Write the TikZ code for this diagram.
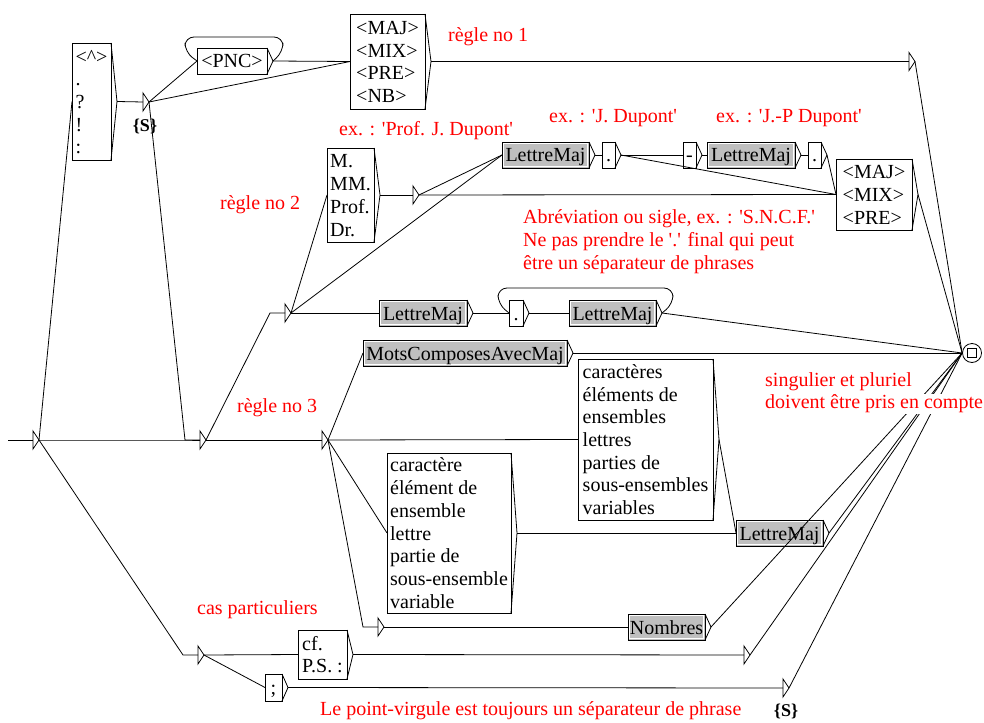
\documentclass[tikz,border=0pt]{standalone}
\usepackage{fontspec}
\setmainfont{Liberation Serif}[Ligatures={TeXOff,NoCommon}]
\usetikzlibrary{calc}

% A box of the automaton: name, left, top, right, bottom, style, text
\newcommand\UBox[7]{%
  \pgfmathsetmacro\ubw{#4-#2}%
  \pgfmathsetmacro\ubh{#5-#3}%
  \node[#6, minimum width=\ubw pt, minimum height=\ubh pt, anchor=north west] (#1) at (#2,#3) {};
  \coordinate (#1-o) at ($(#1.east)+(6,0)$);
  \draw[edge] (#1.north east) -- (#1-o) -- (#1.south east);
  \node[boxtext] (#1-t) at (#1.center) {\rule{0pt}{18.5pt}#7\rule[-4.5pt]{0pt}{0pt}};}
% A call to a sub-graph: grey box with a light inner rim
\newcommand\GBox[6]{%
  \UBox{#1}{#2}{#3}{#4}{#5}{greybox}{}%
  \draw[white, line width=0.6pt] ($(#1.north west)+(1.6,1.6)$) rectangle ($(#1.south east)+(-1.6,-1.6)$);
  \node[boxtext] (#1-t) at (#1.center) {\rule{0pt}{18.5pt}#6\rule[-4.5pt]{0pt}{0pt}};}
% An empty box, drawn as a small triangle
\newcommand\Eps[3]{%
  \coordinate (#1) at (#2,#3);
  \coordinate (#1-o) at (#2+6,#3);
  \draw[edge, line join=miter] (#2,#3-9) -- (#2,#3+9) -- (#1-o) -- cycle;}

\begin{document}
\begin{tikzpicture}[x=1pt, y=-1pt,
  edge/.style={line width=0.8pt, draw=black},
  plainbox/.style={draw=black, line width=0.8pt, fill=white, inner sep=0pt, outer sep=0pt},
  greybox/.style={draw=black, line width=0.8pt, fill=gray!50, inner sep=0pt, outer sep=0pt},
  boxtext/.style={inner sep=0pt, align=left, font=\fontsize{20}{22.7}\selectfont},
  note/.style={text=red, inner sep=0pt, anchor=west, align=left, font=\fontsize{20}{23}\selectfont},
  outtext/.style={inner sep=0pt, font=\bfseries\fontsize{18}{20}\selectfont}]
\useasboundingbox[fill=white] (0,0) rectangle (984,722);

% ---------- boxes ----------
\UBox{A}{72}{43}{111}{160}{plainbox}{\textless\textasciicircum\textgreater\\.\\?\\!\\:}
\UBox{PNC}{197}{48}{267}{74}{plainbox}{<PNC>}
\UBox{MAJ}{350}{14}{425}{109}{plainbox}{<MAJ>\\<MIX>\\<PRE>\\<NB>}
\UBox{M}{327}{148}{374}{242}{plainbox}{M.\\MM.\\Prof.\\Dr.}
\GBox{LMa}{502}{142}{589}{168}{LettreMaj}
\UBox{dotA}{602}{142}{615}{168}{plainbox}{.}
\UBox{dash}{683}{142}{696}{168}{plainbox}{-}
\GBox{LMb}{707}{142}{795}{168}{LettreMaj}
\UBox{dotB}{808}{142}{821}{168}{plainbox}{.}
\UBox{MAJb}{836}{159}{912}{230}{plainbox}{<MAJ>\\<MIX>\\<PRE>}
\GBox{LMc}{379}{300}{467}{326}{LettreMaj}
\UBox{dotC}{509}{300}{523}{326}{plainbox}{.}
\GBox{LMd}{569}{300}{656}{326}{LettreMaj}
\GBox{Mots}{363}{340}{567}{366}{MotsComposesAvecMaj}
\UBox{Cpl}{578}{359}{713}{520}{plainbox}{caractères\\éléments de\\ensembles\\lettres\\parties de\\sous-ensembles\\variables}
\UBox{Csg}{387}{453}{511}{613}{plainbox}{caractère\\élément de\\ensemble\\lettre\\partie de\\sous-ensemble\\variable}
\GBox{LMe}{736}{520}{823}{546}{LettreMaj}
\GBox{Nb}{628}{614}{705}{640}{Nombres}
\UBox{cf}{298}{630}{347}{679}{plainbox}{cf.\\P.S. :}
\UBox{semi}{265}{674}{282}{701}{plainbox}{;}

% ---------- empty boxes ----------
\Eps{T0}{33}{440}
\Eps{S1}{143}{102}
\Eps{T1}{909}{61.5}
\Eps{T2}{413}{195}
\Eps{T3}{285}{313}
\Eps{T4}{200}{440}
\Eps{T5}{322}{440}
\Eps{T6}{378}{627}
\Eps{T7}{198}{655}
\Eps{T8}{744}{655}
\Eps{S2}{783}{688}
\node[outtext] (S1-out) at (145,126) {\{S\}};
\node[outtext] (S2-out) at (786,711) {\{S\}};

% ---------- final state ----------
\node[draw, circle, line width=0.8pt, minimum size=19pt, inner sep=0pt] (F) at (972,353) {};
\node[draw, line width=0.8pt, minimum size=9pt, inner sep=0pt] (Fsq) at (F) {};

% ---------- transitions ----------
\coordinate (start) at (8,440);
\draw[edge] (start) -- (T0);
\draw[edge] (T0-o) -- (A.west);
\draw[edge] (T0-o) -- ($(T4)+(-15,0)$) -- (T4);
\draw[edge] (T0-o) -- ($(T7)+(-15,0)$) -- (T7);
\draw[edge] (A-o) -- (S1);
\draw[edge] (S1-o) -- (PNC.west);
\draw[edge] (S1-o) -- (MAJ.west);
\draw[edge] (S1-o) -- ($(T4)+(-15,0)$) -- (T4);
\draw[edge] (PNC-o) -- (MAJ.west);
\draw[edge, rounded corners=9pt] (PNC-o) -- ($(PNC-o)+(10,-9)$) -- ($(PNC-o)+(10,-24)$)
  -- ($(PNC.west)+(-12,-24)$) -- ($(PNC.west)+(-12,-9)$) -- (PNC.west);
\draw[edge] (MAJ-o) -- (T1);
\draw[edge] (T1-o) -- (F.west);

\draw[edge] (T4-o) -- ($(T3)+(-15,0)$) -- (T3);
\draw[edge] (T4-o) -- (T5);
\draw[edge] (T3-o) -- (M.west);
\draw[edge] (T3-o) -- (LMa.west);
\draw[edge] (T3-o) -- (LMc.west);
\draw[edge] (M-o) -- (T2);
\draw[edge] (T2-o) -- (LMa.west);
\draw[edge] (T2-o) -- (MAJb.west);
\draw[edge] (LMa-o) -- (dotA.west);
\draw[edge] (dotA-o) -- (dash.west);
\draw[edge] (dotA-o) -- (MAJb.west);
\draw[edge] (dash-o) -- (LMb.west);
\draw[edge] (LMb-o) -- (dotB.west);
\draw[edge] (dotB-o) -- (MAJb.west);
\draw[edge] (MAJb-o) -- (F.west);

\draw[edge] (LMc-o) -- (dotC.west);
\draw[edge] (dotC-o) -- (LMd.west);
\draw[edge, rounded corners=9pt] (LMd-o) -- ($(LMd-o)+(11,-9)$) -- ($(LMd-o)+(11,-25)$)
  -- ($(dotC.west)+(-11,-25)$) -- ($(dotC.west)+(-11,-9)$) -- (dotC.west);
\draw[edge] (LMd-o) -- (F.west);

\draw[edge] (T5-o) -- (Mots.west);
\draw[edge] (T5-o) -- (Cpl.west);
\draw[edge] (T5-o) -- (Csg.west);
\draw[edge] (T5-o) -- ($(T6)+(-15,0)$) -- (T6);
\draw[edge] (Mots-o) -- (F.west);
\draw[edge] (Cpl-o) -- (LMe.west);
\draw[edge] (Csg-o) -- (LMe.west);
\draw[edge] (T6-o) -- (Nb.west);
\draw[edge] (LMe-o) -- (F.west);
\draw[edge] (Nb-o) -- (F.west);

\draw[edge] (T7-o) -- (cf.west);
\draw[edge] (T7-o) -- (semi.west);
\draw[edge] (cf-o) -- (T8);
\draw[edge] (semi-o) -- (S2);
\draw[edge] (T8-o) -- (F.west);
\draw[edge] (S2-o) -- (F.west);

% ---------- comments ----------
\node[note] (n1) at (448,37) {règle no 1};
\node[note] (n2) at (220,205) {règle no 2};
\node[note] (n3) at (237,408) {règle no 3};
\node[note] (e1) at (339,131) {ex. : 'Prof. J. Dupont'};
\node[note] (e2) at (549,118) {ex. : 'J. Dupont'};
\node[note] (e3) at (716,118) {ex. : 'J.-P Dupont'};
\node[note] (abr) at (523,242) {Abréviation ou sigle, ex. : 'S.N.C.F.'\\Ne pas prendre le '.' final qui peut\\être un séparateur de phrases};
\node[note, fill=white, inner sep=1pt] (sg1) at (764,382) {singulier et pluriel};
\node[note, fill=white, inner sep=1pt] (sg2) at (764,404) {doivent être pris en compte};
\node[note] (cas) at (197,610) {cas particuliers};
\node[note] (pv) at (320,711) {Le point-virgule est toujours un séparateur de phrase};
\end{tikzpicture}
\end{document}
